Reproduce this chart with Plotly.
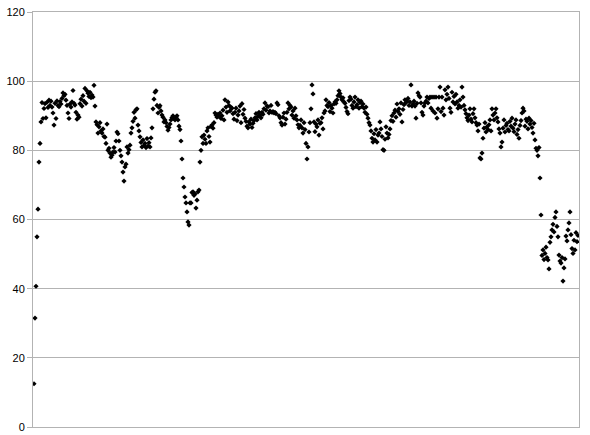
import numpy as np
import plotly.graph_objects as go

# Sample readings, one per sample in order
readings = [
    12.5, 31.5, 40.7, 55.0, 63.0, 76.6, 82.0, 88.2,
    93.8, 89.2, 92.1, 93.5, 89.4, 93.9, 92.4, 94.5, 93.0, 94.2,
    92.5, 90.8, 87.3, 93.6, 89.2, 94.3, 93.0, 92.6, 94.1, 93.4,
    95.0, 96.6, 95.8, 96.2, 94.5, 93.0, 90.8, 89.2, 93.4, 92.5,
    94.0, 97.3, 93.6, 93.1, 91.0, 89.0, 90.2, 89.6, 93.5, 94.8,
    92.8, 95.8, 94.2, 97.9, 93.6, 97.2, 96.5, 95.6, 96.8, 95.2,
    96.0, 95.4, 98.8, 92.8, 88.2, 87.4, 85.0, 86.8, 88.0, 85.6,
    85.0, 86.2, 84.0, 83.8, 82.0, 87.6, 80.0, 80.6, 79.2, 78.0,
    78.6, 79.5, 80.8, 79.5, 82.7, 85.3, 84.8, 82.7, 80.0, 78.4,
    76.6, 73.7, 71.1, 75.2, 76.0, 81.0, 79.2, 80.2, 81.5, 85.0,
    86.5, 88.4, 91.0, 89.3, 91.7, 92.0, 87.3, 85.6, 83.9, 82.3,
    81.0, 83.0, 81.4, 82.0, 80.8, 83.4, 81.2, 82.2, 81.0, 83.6,
    86.5, 92.0, 94.8, 96.8, 97.2, 93.0, 90.8, 92.4, 92.9, 91.4,
    90.2, 89.6, 88.2, 88.8, 88.0, 86.9, 85.8, 86.6, 87.6, 88.8,
    89.5, 90.0, 89.2, 88.8, 89.6, 90.0, 88.8, 87.0, 86.0, 82.7,
    77.5, 72.0, 69.4, 66.5, 64.8, 62.2, 59.3, 58.4, 64.8, 64.8,
    67.8, 68.0, 67.0, 67.4, 63.3, 65.6, 68.0, 68.5, 76.6, 80.0,
    83.9, 82.0, 84.4, 83.2, 82.0, 85.6, 86.5, 84.0, 82.4, 86.9,
    87.3, 86.4, 88.0, 90.8, 90.2, 89.6, 90.4, 89.8, 90.8, 89.2,
    90.0, 91.6, 88.8, 94.6, 92.5, 91.0, 94.0, 93.0, 91.4, 92.4,
    92.2, 90.6, 89.0, 91.0, 92.2, 88.6, 90.2, 91.4, 92.8, 88.0,
    93.5, 90.4, 91.8, 89.3, 88.4, 87.0, 86.5, 88.2, 87.6, 89.0,
    86.6, 87.8, 88.6, 89.4, 90.6, 88.8, 89.8, 91.0, 90.2, 89.4,
    91.0, 90.4, 92.0, 93.7, 91.6, 92.8, 92.6, 90.8, 91.4, 93.0,
    91.0, 91.2, 90.8, 91.0, 90.6, 93.7, 93.2, 90.0, 89.4, 88.0,
    87.3, 89.6, 90.8, 87.6, 89.0, 91.0, 93.7, 92.0, 93.0, 92.5,
    90.2, 91.4, 89.3, 92.2, 90.0, 88.8, 87.4, 86.5, 87.2, 88.8,
    86.5, 85.0, 88.0, 86.0, 82.0, 77.5, 81.0, 85.3, 88.0, 92.0,
    98.9, 96.3, 88.2, 85.4, 87.6, 86.8, 88.8, 84.4, 87.8, 88.0,
    89.4, 86.2, 90.8, 91.4, 94.6, 93.0, 92.6, 93.8, 91.2, 93.0,
    92.2, 90.8, 93.4, 94.0, 93.6, 94.6, 95.8, 97.2, 96.4, 95.4,
    94.6, 95.2, 94.0, 93.6, 92.4, 91.2, 90.6, 94.4, 95.4, 94.8,
    93.0, 92.2, 94.0, 95.4, 92.6, 93.2, 94.6, 92.2, 93.8, 94.2,
    92.6, 93.4, 92.2, 91.0, 92.5, 90.4, 89.3, 88.0, 87.3, 85.6,
    83.5, 82.4, 84.8, 83.0, 86.0, 82.4, 84.4, 85.0, 88.2, 86.2,
    84.0, 80.2, 80.0, 83.2, 86.8, 85.0, 83.6, 84.6, 86.2, 88.6,
    90.0, 88.4, 90.8, 91.6, 89.6, 93.4, 91.2, 92.0, 90.4, 93.7,
    88.2, 91.8, 93.2, 94.6, 93.8, 94.2, 95.0, 93.0, 94.0, 98.9,
    92.8, 93.4, 94.2, 92.8, 89.3, 93.6, 96.6, 95.8, 95.4, 93.7,
    91.0, 90.2, 92.8, 93.7, 94.2, 95.4, 93.7, 95.0, 95.4, 92.2,
    95.4, 91.4, 95.4, 90.8, 95.4, 89.3, 92.0, 95.4, 98.3, 91.2,
    95.4, 92.2, 90.2, 97.5, 94.6, 96.2, 98.3, 95.0, 92.2, 91.0,
    96.8, 94.0, 95.6, 93.4, 96.2, 94.0, 92.2, 93.0, 94.6, 92.5,
    98.3, 95.4, 93.0, 91.7, 90.6, 89.4, 88.6, 90.2, 92.0, 89.0,
    88.2, 90.6, 92.0, 89.4, 88.0, 87.3, 85.6, 87.6, 77.8, 77.5,
    79.2, 83.5, 86.4, 88.0, 85.3, 86.8, 86.0, 87.4, 88.8, 85.6,
    92.0, 90.2, 88.8, 90.8, 92.0, 89.4, 88.2, 86.2, 85.0, 81.0,
    82.4, 86.4, 88.8, 85.3, 87.2, 87.8, 86.0, 85.6, 88.4, 87.0,
    89.3, 86.4, 85.4, 87.6, 88.8, 84.6, 86.0, 83.5, 87.2, 88.6,
    90.8, 92.2, 91.4, 87.0, 89.0, 88.4, 86.2, 89.3, 87.6, 88.6,
    86.6, 85.0, 87.8, 83.0, 80.6, 80.0, 78.4, 80.8, 72.0, 61.3,
    49.6, 51.2, 48.4, 50.2, 52.0, 49.0, 48.3, 45.7, 53.4, 55.0,
    57.0, 58.6, 56.4, 60.6, 62.2, 58.0, 55.0, 49.7, 48.0, 47.4,
    49.0, 42.2, 46.0, 48.6, 55.2, 53.8, 57.0, 59.0, 62.2, 55.6,
    51.6, 50.2, 54.0, 51.2, 56.2, 53.6, 55.4,
]
sample = np.arange(len(readings))

y_ticks = [0, 20, 40, 60, 80, 100, 120]

fig = go.Figure()

fig.add_trace(go.Scatter(
    x=sample, y=readings,
    mode='markers',
    marker=dict(symbol='diamond', size=4, color='#000000'),
    showlegend=False
))

fig.update_xaxes(
    range=[-1, len(readings)], automargin=False,
    showticklabels=False, ticks='',
    showgrid=False, zeroline=False,
    showline=True, mirror=True, linecolor='#b3b3b3', linewidth=1
)
fig.update_yaxes(
    range=[0, 120], tickvals=y_ticks, automargin=False,
    showgrid=True, gridcolor='#b3b3b3', gridwidth=1,
    zeroline=False,
    showline=True, mirror=True, linecolor='#b3b3b3', linewidth=1,
    ticks='outside', ticklen=5, tickcolor='#b3b3b3',
    tickfont=dict(family='Liberation Sans', size=11, color='#000000')
)

fig.update_layout(
    width=590, height=435,
    margin=dict(l=33, r=11, t=12, b=8),
    plot_bgcolor='white', paper_bgcolor='white'
)

# drop the default 8px body margin so the figure fills the window
fig.write_html("out.html", config={'displayModeBar': False},
               post_script="document.body.style.margin='0';")
